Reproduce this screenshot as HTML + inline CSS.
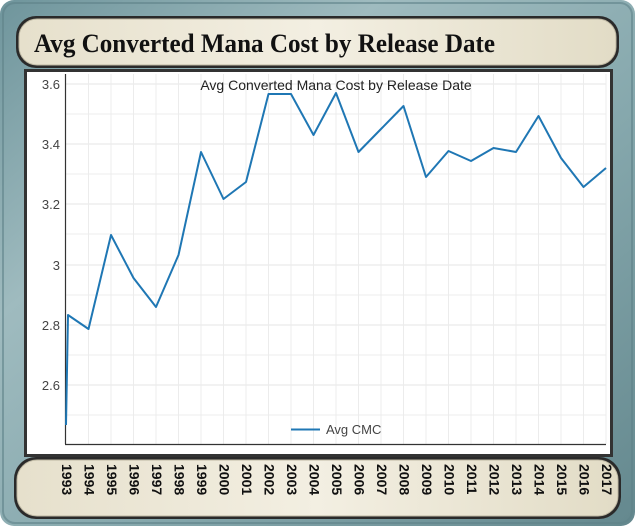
<!DOCTYPE html>
<html><head><meta charset="utf-8"><style>
html,body{margin:0;padding:0;background:#fff;}
body{width:635px;height:526px;overflow:hidden;}
</style></head><body>
<svg width="635" height="526" viewBox="0 0 635 526" xmlns="http://www.w3.org/2000/svg" font-family="Liberation Sans, sans-serif">
<defs>
<linearGradient id="fr" x1="0" y1="0" x2="1" y2="1">
<stop offset="0" stop-color="#6f959c"/><stop offset="0.3" stop-color="#9fbbbf"/><stop offset="0.6" stop-color="#86a8ad"/><stop offset="1" stop-color="#64888e"/>
</linearGradient>
<linearGradient id="ban" x1="0" y1="0" x2="1" y2="0">
<stop offset="0" stop-color="#e6e0cc"/><stop offset="0.5" stop-color="#f3efe2"/><stop offset="1" stop-color="#e2dcc6"/>
</linearGradient>
</defs>
<rect x="0" y="0" width="635" height="526" rx="14" fill="url(#fr)"/>
<rect x="3" y="3" width="629" height="520" rx="12" fill="none" stroke="#5f8288" stroke-width="2" opacity="0.6"/>
<rect x="16" y="16" width="603" height="52" rx="20" fill="#2a2a2a"/>
<rect x="19" y="19" width="597" height="46" rx="18" fill="url(#ban)" stroke="#bdb7a2" stroke-width="1"/>
<text x="34" y="52" font-family="Liberation Serif, serif" font-weight="bold" font-size="26" fill="#111" textLength="461" lengthAdjust="spacingAndGlyphs">Avg Converted Mana Cost by Release Date</text>
<rect x="24" y="69" width="589" height="388" fill="#333"/>
<rect x="27" y="72" width="583" height="382" fill="#fff"/>
<g stroke="#ececec" stroke-width="1">
<line x1="66" y1="114" x2="606" y2="114"/><line x1="66" y1="174" x2="606" y2="174"/><line x1="66" y1="234" x2="606" y2="234"/><line x1="66" y1="295" x2="606" y2="295"/><line x1="66" y1="355" x2="606" y2="355"/><line x1="66" y1="415" x2="606" y2="415"/>
</g>
<g stroke="#e4e4e4" stroke-width="1">
<line x1="66" y1="84" x2="606" y2="84"/><line x1="66" y1="144" x2="606" y2="144"/><line x1="66" y1="204" x2="606" y2="204"/><line x1="66" y1="265" x2="606" y2="265"/><line x1="66" y1="325" x2="606" y2="325"/><line x1="66" y1="385" x2="606" y2="385"/>
</g>
<g stroke="#ececec" stroke-width="1">
<line x1="88.5" y1="74" x2="88.5" y2="444"/><line x1="111" y1="74" x2="111" y2="444"/><line x1="133.5" y1="74" x2="133.5" y2="444"/><line x1="156" y1="74" x2="156" y2="444"/><line x1="178.5" y1="74" x2="178.5" y2="444"/><line x1="201" y1="74" x2="201" y2="444"/><line x1="223.5" y1="74" x2="223.5" y2="444"/><line x1="246" y1="74" x2="246" y2="444"/><line x1="268.5" y1="74" x2="268.5" y2="444"/><line x1="291" y1="74" x2="291" y2="444"/><line x1="313.5" y1="74" x2="313.5" y2="444"/><line x1="336" y1="74" x2="336" y2="444"/><line x1="358.5" y1="74" x2="358.5" y2="444"/><line x1="381" y1="74" x2="381" y2="444"/><line x1="403.5" y1="74" x2="403.5" y2="444"/><line x1="426" y1="74" x2="426" y2="444"/><line x1="448.5" y1="74" x2="448.5" y2="444"/><line x1="471" y1="74" x2="471" y2="444"/><line x1="493.5" y1="74" x2="493.5" y2="444"/><line x1="516" y1="74" x2="516" y2="444"/><line x1="538.5" y1="74" x2="538.5" y2="444"/><line x1="561" y1="74" x2="561" y2="444"/><line x1="583.5" y1="74" x2="583.5" y2="444"/><line x1="606" y1="74" x2="606" y2="444"/>
</g>
<line x1="65.5" y1="74" x2="65.5" y2="444" stroke="#333" stroke-width="1.2"/>
<line x1="65" y1="444.5" x2="606" y2="444.5" stroke="#333" stroke-width="1.2"/>
<g font-size="13" fill="#444" text-anchor="end">
<text x="60" y="89">3.6</text><text x="60" y="149">3.4</text><text x="60" y="209">3.2</text><text x="60" y="270">3</text><text x="60" y="330">2.8</text><text x="60" y="390">2.6</text>
</g>
<text x="336" y="90" font-size="14" fill="#222" text-anchor="middle">Avg Converted Mana Cost by Release Date</text>
<polyline fill="none" stroke="#1f77b4" stroke-width="2" stroke-linejoin="round" points="66,425 68,315 88.5,329 111,235 133.5,278 156,307 178.5,255 201,152 223.5,199 246,182 268.5,94 291,94 313.5,135 336,93 358.5,152 381,129 403.5,106 426,177 448.5,151 471,161 493.5,148 516,152 538.5,116 561,158 583.5,187 606,168"/>
<line x1="291" y1="429.5" x2="320" y2="429.5" stroke="#1f77b4" stroke-width="2"/>
<text x="326" y="434" font-size="13" fill="#444">Avg CMC</text>
<rect x="14" y="457" width="607" height="62" rx="22" fill="#2a2a2a"/>
<rect x="17" y="460" width="601" height="56" rx="20" fill="url(#ban)" stroke="#bdb7a2" stroke-width="1"/>
<g font-size="14" font-weight="bold" fill="#111">
<text transform="translate(62,464) rotate(90)">1993</text>
<text transform="translate(84.5,464) rotate(90)">1994</text>
<text transform="translate(107,464) rotate(90)">1995</text>
<text transform="translate(129.5,464) rotate(90)">1996</text>
<text transform="translate(152,464) rotate(90)">1997</text>
<text transform="translate(174.5,464) rotate(90)">1998</text>
<text transform="translate(197,464) rotate(90)">1999</text>
<text transform="translate(219.5,464) rotate(90)">2000</text>
<text transform="translate(242,464) rotate(90)">2001</text>
<text transform="translate(264.5,464) rotate(90)">2002</text>
<text transform="translate(287,464) rotate(90)">2003</text>
<text transform="translate(309.5,464) rotate(90)">2004</text>
<text transform="translate(332,464) rotate(90)">2005</text>
<text transform="translate(354.5,464) rotate(90)">2006</text>
<text transform="translate(377,464) rotate(90)">2007</text>
<text transform="translate(399.5,464) rotate(90)">2008</text>
<text transform="translate(422,464) rotate(90)">2009</text>
<text transform="translate(444.5,464) rotate(90)">2010</text>
<text transform="translate(467,464) rotate(90)">2011</text>
<text transform="translate(489.5,464) rotate(90)">2012</text>
<text transform="translate(512,464) rotate(90)">2013</text>
<text transform="translate(534.5,464) rotate(90)">2014</text>
<text transform="translate(557,464) rotate(90)">2015</text>
<text transform="translate(579.5,464) rotate(90)">2016</text>
<text transform="translate(602,464) rotate(90)">2017</text>
</g>
</svg>
</body></html>
